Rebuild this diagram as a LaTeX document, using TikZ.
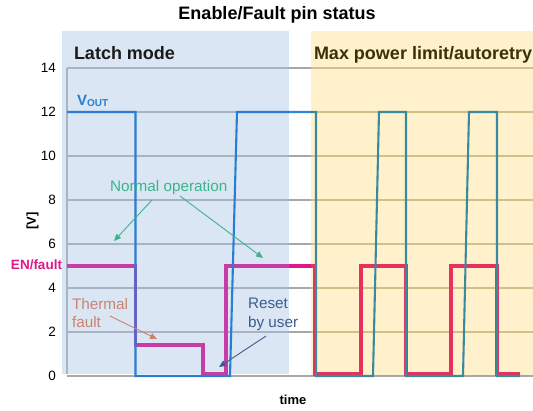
\documentclass[tikz,border=0pt]{standalone}
\usepackage{fontspec}
\setmainfont{Liberation Sans}
\usetikzlibrary{arrows.meta}
\definecolor{voutW}{HTML}{2F86D8}
\definecolor{voutB}{HTML}{2A7DD0}
\definecolor{voutY}{HTML}{3A8A9E}
\definecolor{enW}{HTML}{E0168A}
\definecolor{enB}{HTML}{C83CA8}
\definecolor{enY}{HTML}{E8305F}
\definecolor{bandblue}{HTML}{DAE6F4}
\definecolor{bandyel}{HTML}{FFF1CC}
\definecolor{gridW}{HTML}{A8A8A8}
\definecolor{gridB}{HTML}{A8B4C4}
\definecolor{gridY}{HTML}{D2BF8C}
\definecolor{greenc}{HTML}{3DB389}
\definecolor{thermc}{HTML}{C9846F}
\definecolor{resetc}{HTML}{3D5C8E}
\definecolor{maxc}{HTML}{3A3105}
\definecolor{latchc}{HTML}{1A1A1A}
\newcommand\enTrace{(67,266) -- (135.5,266) -- (135.5,345) -- (203,345) -- (203,374) -- (226,374) -- (226,266)
  -- (315,266) -- (315,374) -- (361,374) -- (361,266) -- (406,266) -- (406,374) -- (451,374)
  -- (451,266) -- (497,266) -- (497,374) -- (520,374)}
\newcommand\voutTrace{(67,112) -- (135.5,112) -- (135.5,376) -- (230,376) -- (237,112) -- (316,112) -- (316,376)
  -- (373,376) -- (379,112) -- (406,112) -- (406,376) -- (463,376) -- (469,112) -- (497,112)
  -- (497,376) -- (520,376)}
\tikzset{
  gridline/.style={line width=1.3pt},
  axisline/.style={gridW, line width=1.6pt},
  voutline/.style={line width=2.1pt, line join=miter},
  enline/.style={line width=3.1pt, line join=miter},
  txt/.style={inner sep=0pt, outer sep=0pt},
  ticklab/.style={txt, anchor=east, font=\fontsize{13.5}{14}\selectfont},
  note/.style={txt, align=left, font=\fontsize{15.3}{18.5}\selectfont},
  noteArrow/.style={line width=0.9pt, -{Triangle[length=7pt,width=6pt]}},
  heading/.style={txt, anchor=base west, font=\bfseries\fontsize{18}{20}\selectfont}
}
\begin{document}
\begin{tikzpicture}[x=1pt,y=-1pt]
\useasboundingbox (0,0) rectangle (533,410);
% bands
\fill[bandblue] (62,31) rectangle (289,374);
\fill[bandyel] (311,31) rectangle (533,375.5);
% grid
\foreach \v in {2,4,...,14}{
  \draw[gridline, gridB] (67,{376-22*\v}) -- (289,{376-22*\v});
  \draw[gridline, gridW] (289,{376-22*\v}) -- (311,{376-22*\v});
  \draw[gridline, gridY] (311,{376-22*\v}) -- (533,{376-22*\v});
}
\draw[axisline, gridB] (67,68) -- (67,374);
\draw[axisline] (67,376) -- (533,376);
% traces, coloured per region
\begin{scope}
  \clip (0,0) rectangle (62,410) (289,0) rectangle (311,410);
  \draw[enline, enW] \enTrace;
  \draw[voutline, voutW] \voutTrace;
\end{scope}
\begin{scope}
  \clip (62,0) rectangle (289,410);
  \draw[enline, enB] \enTrace;
  \draw[voutline, voutB] \voutTrace;
\end{scope}
\begin{scope}
  \clip (311,0) rectangle (533,410);
  \draw[enline, enY] \enTrace;
  \draw[voutline, voutY] \voutTrace;
\end{scope}
% tick labels
\foreach \v in {0,2,...,14}{
  \node[ticklab] (t\v) at (56,{376-22*\v}) {\v};
}
% titles and labels
\node[txt, anchor=base, font=\bfseries\fontsize{18}{20}\selectfont] (title) at (277,19.7) {Enable/Fault pin status};
\node[heading, text=latchc] (latch) at (74,59.5) {Latch mode};
\node[heading, text=maxc] (maxp) at (314,59.5) {Max power limit/autoretry};
\node[txt, rotate=90, font=\bfseries\fontsize{13}{14}\selectfont] (ylab) at (32.5,221) {[V]};
\node[txt, anchor=base, font=\bfseries\fontsize{13}{14}\selectfont] (xlab) at (293,404) {time};
\node[txt, anchor=east, text=enW, font=\bfseries\fontsize{13.5}{14}\selectfont] (enlab) at (62,265) {EN/fault};
\node[txt, anchor=base west, text=voutB, font=\bfseries\fontsize{15}{16}\selectfont] (voutlab) at (77,105.7)
  {V{\fontsize{10}{10}\selectfont\raisebox{-0.8pt}{OUT}}};
% annotations
\node[note, anchor=base west, text=greenc] (normal) at (110,191) {Normal operation};
\coordinate (n1s) at (152,200);
\coordinate (n1e) at (114,241);
\coordinate (n2s) at (180,196);
\coordinate (n2e) at (263,258);
\draw[noteArrow, greenc] (n1s) -- (n1e);
\draw[noteArrow, greenc] (n2s) -- (n2e);
\node[note, anchor=north west, text=thermc] (therm) at (72,298) {Thermal\\fault};
\coordinate (ths) at (110,316);
\coordinate (the) at (157,339);
\draw[noteArrow, thermc] (ths) -- (the);
\node[note, anchor=north west, text=resetc] (reset) at (248,298) {Reset\\by user};
\coordinate (rss) at (266,336);
\coordinate (rse) at (219,367);
\draw[noteArrow, resetc] (rss) -- (rse);
\end{tikzpicture}
\end{document}
